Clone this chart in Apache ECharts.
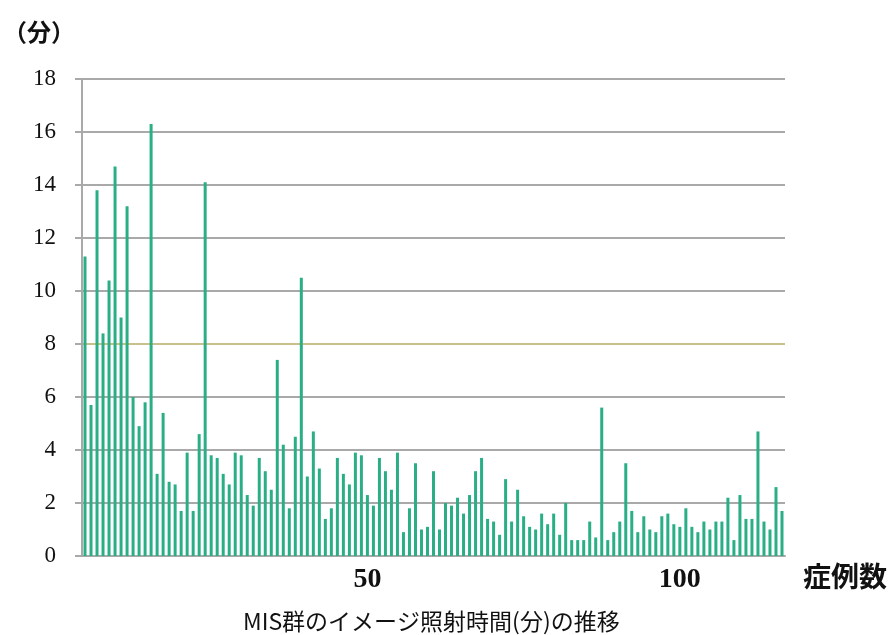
<!DOCTYPE html>
<html>
<head>
<meta charset="utf-8">
<script src="https://cdn.jsdelivr.net/npm/echarts@6/dist/echarts.min.js"></script>
<style>html,body{margin:0;padding:0;background:#fff}#c{width:890px;height:635px}</style>
</head>
<body>
<div id="c"></div>
<script>
// case numbers 1..117
const cases = [];
for (let i = 1; i <= 117; i++) cases.push(String(i));
// imaging irradiation time (minutes) per case
const minutes = [
  11.3, 5.7, 13.8, 8.4, 10.4, 14.7, 9.0, 13.2, 6.0, 4.9,
  5.8, 16.3, 3.1, 5.4, 2.8, 2.7, 1.7, 3.9, 1.7, 4.6,
  14.1, 3.8, 3.7, 3.1, 2.7, 3.9, 3.8, 2.3, 1.9, 3.7,
  3.2, 2.5, 7.4, 4.2, 1.8, 4.5, 10.5, 3.0, 4.7, 3.3,
  1.4, 1.8, 3.7, 3.1, 2.7, 3.9, 3.8, 2.3, 1.9, 3.7,
  3.2, 2.5, 3.9, 0.9, 1.8, 3.5, 1.0, 1.1, 3.2, 1.0,
  2.0, 1.9, 2.2, 1.6, 2.3, 3.2, 3.7, 1.4, 1.3, 0.8,
  2.9, 1.3, 2.5, 1.5, 1.1, 1.0, 1.6, 1.2, 1.6, 0.8,
  2.0, 0.6, 0.6, 0.6, 1.3, 0.7, 5.6, 0.6, 0.9, 1.3,
  3.5, 1.7, 0.9, 1.5, 1.0, 0.9, 1.5, 1.6, 1.2, 1.1,
  1.8, 1.1, 0.9, 1.3, 1.0, 1.3, 1.3, 2.2, 0.6, 2.3,
  1.4, 1.4, 4.7, 1.3, 1.0, 2.6, 1.7
];
const xTickLabels = ['50', '100'];
const yTicks = [0, 2, 4, 6, 8, 10, 12, 14, 16, 18];
const yUnit = '（分）';
const xName = '症例数';
const titleText = 'MIS群のイメージ照射時間(分)の推移';

const chart = echarts.init(document.getElementById('c'));
const gridColors = yTicks.map(v => v === 8 ? '#c9c08a' : '#a9a9a9');
chart.setOption({
  animation: false,
  title: {
    text: titleText,
    left: 238, top: 605,
    textStyle: { fontFamily: 'Noto Sans CJK JP', fontWeight: 'normal', fontSize: 23, color: '#111' }
  },
  grid: { left: 82, right: 105, top: 79, bottom: 79 },
  graphic: [{
    type: 'text', left: 3, top: 20,
    style: { text: yUnit, font: 'bold 24px "Noto Sans CJK JP"', fill: '#111' }
  }],
  xAxis: {
    type: 'category',
    data: cases,
    name: xName,
    nameLocation: 'end',
    nameGap: 18,
    nameTextStyle: { fontFamily: 'Noto Sans CJK JP', fontWeight: 'bold', fontSize: 28, color: '#111', verticalAlign: 'top', padding: [6, 0, 0, 0] },
    axisLine: { lineStyle: { color: '#a9a9a9', width: 2 } },
    axisTick: { show: false },
    axisLabel: {
      interval: (idx, val) => xTickLabels.indexOf(val) >= 0,
      formatter: v => v === '50' ? '{s|' + v + '}' : v,
      rich: { s: { fontFamily: 'Liberation Serif', fontWeight: 'bold', fontSize: 28, color: '#111', padding: [0, 24, 0, 0] } },
      fontFamily: 'Liberation Serif', fontWeight: 'bold', fontSize: 28, color: '#111', margin: 10
    },
    splitLine: { show: false }
  },
  yAxis: {
    type: 'value',
    min: 0, max: 18, interval: 2,
    axisLine: { show: true, lineStyle: { color: '#a9a9a9', width: 2 } },
    axisTick: { show: true, length: 7, lineStyle: { color: '#a9a9a9', width: 2 } },
    axisLabel: { fontFamily: 'Liberation Serif', fontSize: 23, color: '#111', margin: 26 },
    splitLine: { show: true, lineStyle: { color: gridColors, width: 2 } }
  },
  series: [{
    type: 'bar',
    data: minutes,
    barWidth: 3,
    itemStyle: { color: '#2aae86' }
  }]
});
</script>
</body>
</html>
